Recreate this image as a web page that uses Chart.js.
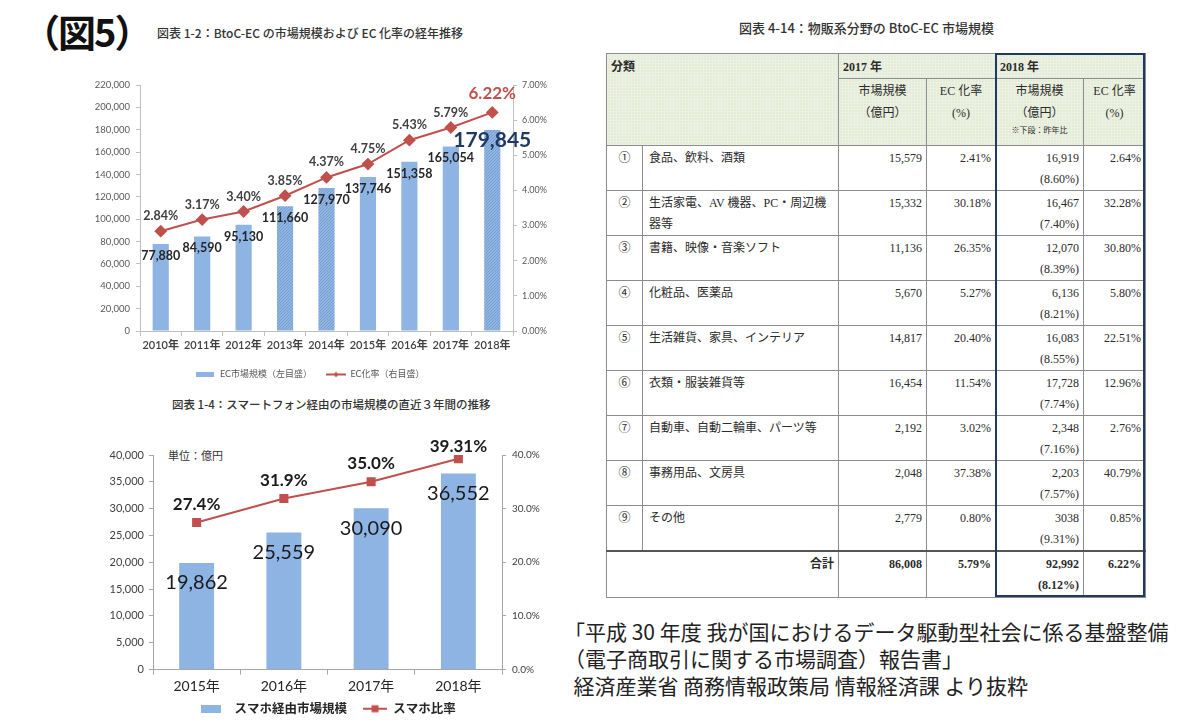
<!DOCTYPE html>
<html lang="ja">
<head>
<meta charset="utf-8">
<script src="https://cdn.jsdelivr.net/npm/chart.js@4.4.1/dist/chart.umd.min.js"></script>
<style>
  body { margin:0; width:1200px; height:727px; background:#fff; position:relative; overflow:hidden;
         font-family:'Noto Sans CJK JP', sans-serif; color:#222; }
  .abs { position:absolute; white-space:nowrap; }
  #fig { left:22px; top:8px; font-size:38px; font-weight:700; line-height:46px; color:#111; letter-spacing:-2px; }
  .ttl { font-size:12px; line-height:16px; color:#333; font-weight:500; }
  #ecChart { position:absolute; left:60px; top:60px; }
  #smChart { position:absolute; left:90px; top:430px; }
  #unit { left:168px; top:447px; font-size:11px; color:#333; }
  #tbl { position:absolute; left:606px; top:53px; width:539px; border-collapse:collapse; table-layout:fixed;
         font-family:'Liberation Serif','Noto Sans CJK JP',serif; font-size:12px; color:#2b2b2b; }
  #tbl td { border:1px solid #8c8c8c; padding:2px 4px 0 4px; vertical-align:top; line-height:21px; }
  #tbl td.hd { background-color:#ecf2e2; background-image:radial-gradient(circle, #cbd6bb 0.6px, transparent 0.9px);
               background-size:3px 3px; }
  #tbl .b { font-weight:700; }
  #tbl .c { text-align:center; }
  #tbl .r { text-align:right; }
  #tbl .name { padding-left:6px; white-space:normal; }
  #tbl .small { font-size:8px; line-height:14px; display:block; }
  #tbl tr.h1 { height:25px; }
  #tbl tr.h1 td { line-height:20px; padding-top:3px; }
  #tbl tr.h2 { height:67px; }
  #tbl tr.h2 td { line-height:22px; padding-top:1px; }
  #tbl tr.row { height:45px; }
  #tbl tr.total { height:46px; }
  #tbl tr.total td { border-top:2px solid #555; }
  #box2018 { position:absolute; left:995px; top:53px; width:150px; height:544px; border:2px solid #1f3864; box-sizing:border-box; }
  #note { left:564px; top:618px; font-size:21px; line-height:27px; color:#222; white-space:pre; }
</style>
</head>
<body>
<div id="fig" class="abs">（図5）</div>
<div class="abs ttl" style="left:157px;top:25px;">図表 1-2：BtoC-EC の市場規模および EC 化率の経年推移</div>
<div class="abs ttl" style="left:172px;top:396px;font-size:11.5px;">図表 1-4：スマートフォン経由の市場規模の直近３年間の推移</div>
<div class="abs ttl" style="left:739px;top:20px;font-size:13px;">図表 4-14：物販系分野の BtoC-EC 市場規模</div>
<div id="unit" class="abs">単位：億円</div>

<canvas id="ecChart" width="500" height="329"></canvas>
<canvas id="smChart" width="470" height="295"></canvas>

<table id="tbl"></table>
<div id="box2018"></div>

<div id="note" class="abs">「平成 30 年度 我が国におけるデータ駆動型社会に係る基盤整備
（電子商取引に関する市場調査）報告書」
  経済産業省 商務情報政策局 情報経済課 より抜粋</div>

<script>
// --- 図表 1-2 ---
const years1 = ['2010年', '2011年', '2012年', '2013年', '2014年', '2015年', '2016年', '2017年', '2018年'];
const ecMarket = [77880, 84590, 95130, 111660, 127970, 137746, 151358, 165054, 179845];
const ecRate = [2.84, 3.17, 3.40, 3.85, 4.37, 4.75, 5.43, 5.79, 6.22];
const stippledYears = ['2013年', '2014年', '2018年'];

// --- 図表 1-4 ---
const years2 = ['2015年', '2016年', '2017年', '2018年'];
const smartMarket = [19862, 25559, 30090, 36552];
const smartRate = [27.4, 31.9, 35.0, 39.31];
const smartRateText = ['27.4%', '31.9%', '35.0%', '39.31%'];

// --- 図表 4-14 ---
const catNums = ['①', '②', '③', '④', '⑤', '⑥', '⑦', '⑧', '⑨'];
const catNames = ['食品、飲料、酒類', '生活家電、AV 機器、PC・周辺機器等', '書籍、映像・音楽ソフト', '化粧品、医薬品',
  '生活雑貨、家具、インテリア', '衣類・服装雑貨等', '自動車、自動二輪車、パーツ等', '事務用品、文房具', 'その他'];
const market2017 = [15579, 15332, 11136, 5670, 14817, 16454, 2192, 2048, 2779];
const rate2017 = [2.41, 30.18, 26.35, 5.27, 20.40, 11.54, 3.02, 37.38, 0.80];
const market2018 = [16919, 16467, 12070, 6136, 16083, 17728, 2348, 2203, 3038];
const growth2018 = [8.60, 7.40, 8.39, 8.21, 8.55, 7.74, 7.16, 7.57, 9.31];
const rate2018 = [2.64, 32.28, 30.80, 5.80, 22.51, 12.96, 2.76, 40.79, 0.85];
const total2017 = [86008, 5.79];
const total2018 = [92992, 8.12, 6.22];

const BAR = '#8db4e2';
const RED = '#c0504d';
const AXIS = '#bfbfbf';
const FONT = "Lato, 'Noto Sans CJK JP', sans-serif";

function stipple(base, dot) {
  const c = document.createElement('canvas');
  c.width = 3; c.height = 3;
  const g = c.getContext('2d');
  g.fillStyle = base; g.fillRect(0, 0, 3, 3);
  g.fillStyle = dot; g.fillRect(0, 0, 1, 1); g.fillRect(2, 1, 1, 1); g.fillRect(1, 2, 1, 1);
  return g.createPattern(c, 'repeat');
}

function swatchBox(w, h, color) {
  const c = document.createElement('canvas');
  c.width = w; c.height = h;
  const g = c.getContext('2d');
  g.fillStyle = color; g.fillRect(0, 0, w, h);
  return c;
}

// line + marker swatch, `gap` px of empty space on the left to separate legend items
function swatchLine(w, h, color, marker, m, gap = 0) {
  const c = document.createElement('canvas');
  c.width = w + gap; c.height = h;
  const g = c.getContext('2d');
  g.strokeStyle = color; g.lineWidth = 2;
  g.beginPath(); g.moveTo(gap, h / 2); g.lineTo(gap + w, h / 2); g.stroke();
  g.fillStyle = color;
  g.save(); g.translate(gap + w / 2, h / 2);
  if (marker === 'diamond') g.rotate(Math.PI / 4);
  g.fillRect(-m / 2, -m / 2, m, m);
  g.restore();
  return c;
}

// draws value labels next to bars / points, positions come from the chart elements
function valueLabels(fn) {
  return {
    id: 'valueLabels',
    afterDatasetsDraw(chart) {
      const ctx = chart.ctx;
      chart.data.datasets.forEach((ds, di) => {
        chart.getDatasetMeta(di).data.forEach((el, i) => {
          const s = fn(di, i, ds.data[i]);
          ctx.save();
          ctx.font = s.font;
          ctx.fillStyle = s.color;
          ctx.textAlign = 'center';
          ctx.textBaseline = 'middle';
          ctx.fillText(s.text, el.x, el.y + s.dy);
          ctx.restore();
        });
      });
    }
  };
}

function legendItems(swatches) {
  return chart => {
    const items = Chart.defaults.plugins.legend.labels.generateLabels(chart);
    items.sort((a, b) => a.datasetIndex - b.datasetIndex);
    items.forEach(it => { it.pointStyle = swatches[it.datasetIndex]; });
    return items;
  };
}

const plain = { responsive: false, animation: false, devicePixelRatio: 1 };

// ---------- chart 1 ----------
const stip = stipple(BAR, '#7a9fcc');
new Chart(document.getElementById('ecChart'), {
  data: {
    labels: years1,
    datasets: [{
      type: 'bar',
      label: 'EC市場規模（左目盛）',
      data: ecMarket,
      backgroundColor: years1.map(y => stippledYears.includes(y) ? stip : BAR),
      yAxisID: 'y',
      order: 1,
      barPercentage: 0.39,
      categoryPercentage: 1
    }, {
      type: 'line',
      label: 'EC化率（右目盛）',
      data: ecRate,
      borderColor: RED,
      backgroundColor: RED,
      borderWidth: 2,
      pointStyle: 'rectRot',
      pointRadius: 5,
      yAxisID: 'y1',
      order: 0
    }]
  },
  options: {
    ...plain,
    layout: { padding: { top: 25 } },
    plugins: {
      tooltip: { enabled: false },
      legend: {
        position: 'bottom',
        labels: {
          usePointStyle: true,
          pointStyleWidth: 20,
          padding: 14,
          color: '#595959',
          font: { family: FONT, size: 9 },
          generateLabels: legendItems([swatchBox(18, 5, BAR), swatchLine(20, 8, RED, 'diamond', 4)])
        }
      }
    },
    scales: {
      x: {
        grid: { display: true, drawOnChartArea: false, tickLength: 5, color: AXIS, offset: true },
        border: { color: AXIS },
        ticks: { color: '#404040', font: { family: FONT, size: 11, weight: '600' }, padding: 3,
                 maxRotation: 0, minRotation: 0, autoSkip: false },
        afterFit: s => { s.height = 25; }
      },
      y: {
        position: 'left', min: 0, max: 220000,
        grid: { drawOnChartArea: false, tickLength: 4, color: AXIS },
        border: { color: AXIS },
        ticks: { stepSize: 20000, color: '#595959', font: { family: FONT, size: 9.5 }, padding: 6,
                 callback: v => v.toLocaleString('en-US') },
        afterFit: s => { s.width = 80; }
      },
      y1: {
        position: 'right', min: 0, max: 7,
        grid: { drawOnChartArea: false, tickLength: 4, color: AXIS },
        border: { color: AXIS },
        ticks: { stepSize: 1, color: '#595959', font: { family: FONT, size: 9 }, padding: 5,
                 callback: v => v.toFixed(2) + '%' },
        afterFit: s => { s.width = 47; }
      }
    }
  },
  plugins: [valueLabels((di, i, v) => {
    const last = i === ecMarket.length - 1;
    if (di === 0) {
      return last
        ? { text: v.toLocaleString('en-US'), font: `bold 21px ${FONT}`, color: '#1f3864', dy: 10 }
        : { text: v.toLocaleString('en-US'), font: `bold 12.5px ${FONT}`, color: '#262626', dy: 12 };
    }
    return last
      ? { text: v.toFixed(2) + '%', font: `bold 17px ${FONT}`, color: RED, dy: -19 }
      : { text: v.toFixed(2) + '%', font: `bold 12.5px ${FONT}`, color: '#404040', dy: -15 };
  })]
});

// ---------- chart 2 ----------
new Chart(document.getElementById('smChart'), {
  data: {
    labels: years2,
    datasets: [{
      type: 'bar',
      label: 'スマホ経由市場規模',
      data: smartMarket,
      backgroundColor: BAR,
      yAxisID: 'y',
      order: 1,
      barPercentage: 0.4,
      categoryPercentage: 1
    }, {
      type: 'line',
      label: 'スマホ比率',
      data: smartRate,
      borderColor: RED,
      backgroundColor: RED,
      borderWidth: 2,
      pointStyle: 'rect',
      pointRadius: 5,
      yAxisID: 'y1',
      order: 0
    }]
  },
  options: {
    ...plain,
    layout: { padding: { top: 25 } },
    plugins: {
      tooltip: { enabled: false },
      legend: {
        position: 'bottom',
        labels: {
          usePointStyle: true,
          pointStyleWidth: 34,
          padding: 6,
          color: '#262626',
          font: { family: FONT, size: 12.5, weight: 'bold' },
          generateLabels: legendItems([swatchBox(20, 8, BAR), swatchLine(24, 10, RED, 'square', 7, 10)])
        }
      }
    },
    scales: {
      x: {
        grid: { display: true, drawOnChartArea: false, tickLength: 5, color: '#a6a6a6', offset: true },
        border: { color: '#a6a6a6' },
        ticks: { color: '#262626', font: { family: FONT, size: 14 }, padding: 4 },
        afterFit: s => { s.height = 27; }
      },
      y: {
        position: 'left', min: 0, max: 40000,
        grid: { drawOnChartArea: false, tickLength: 4, color: '#a6a6a6' },
        border: { color: '#a6a6a6' },
        ticks: { stepSize: 5000, color: '#404040', font: { family: FONT, size: 11 }, padding: 5,
                 callback: v => v.toLocaleString('en-US') },
        afterFit: s => { s.width = 63; }
      },
      y1: {
        position: 'right', min: 0, max: 40,
        grid: { drawOnChartArea: false, tickLength: 4, color: '#a6a6a6' },
        border: { color: '#a6a6a6' },
        ticks: { stepSize: 10, color: '#404040', font: { family: FONT, size: 10 }, padding: 6,
                 callback: v => v.toFixed(1) + '%' },
        afterFit: s => { s.width = 58; }
      }
    }
  },
  plugins: [valueLabels((di, i, v) => {
    if (di === 0) {
      return { text: v.toLocaleString('en-US'), font: `20px ${FONT}`, color: '#1a1a1a', dy: 20 };
    }
    return { text: smartRateText[i], font: `bold 17px ${FONT}`, color: '#1a1a1a',
             dy: i === smartRate.length - 1 ? -12 : -18 };
  })]
});

// ---------- table 4-14 ----------
const fmtInt = v => v.toLocaleString('en-US');
const fmtPct = v => v.toFixed(2) + '%';
let html = '<colgroup><col style="width:36px"><col style="width:196px"><col style="width:88px">' +
  '<col style="width:69px"><col style="width:88px"><col style="width:62px"></colgroup>';
html += '<tr class="h1"><td class="hd b" colspan="2" rowspan="2">分類</td>' +
  '<td class="hd b" colspan="2">2017 年</td><td class="hd b" colspan="2">2018 年</td></tr>';
html += '<tr class="h2"><td class="hd c">市場規模<br>（億円）</td><td class="hd c">EC 化率<br>(%)</td>' +
  '<td class="hd c">市場規模<br>（億円）<span class="small">※下段：昨年比</span></td><td class="hd c">EC 化率<br>(%)</td></tr>';
catNames.forEach((name, i) => {
  // the source table prints ⑨'s 2018 value without a separator
  const m18 = i === 8 ? String(market2018[i]) : fmtInt(market2018[i]);
  html += `<tr class="row"><td class="c">${catNums[i]}</td><td class="name">${name}</td>` +
    `<td class="r">${fmtInt(market2017[i])}</td><td class="r">${fmtPct(rate2017[i])}</td>` +
    `<td class="r">${m18}<br>(${fmtPct(growth2018[i])})</td><td class="r">${fmtPct(rate2018[i])}</td></tr>`;
});
html += `<tr class="total"><td class="r b" colspan="2">合計</td>` +
  `<td class="r b">${fmtInt(total2017[0])}</td><td class="r b">${fmtPct(total2017[1])}</td>` +
  `<td class="r b">${fmtInt(total2018[0])}<br>(${fmtPct(total2018[1])})</td><td class="r b">${fmtPct(total2018[2])}</td></tr>`;
document.getElementById('tbl').innerHTML = html;
</script>
</body>
</html>
